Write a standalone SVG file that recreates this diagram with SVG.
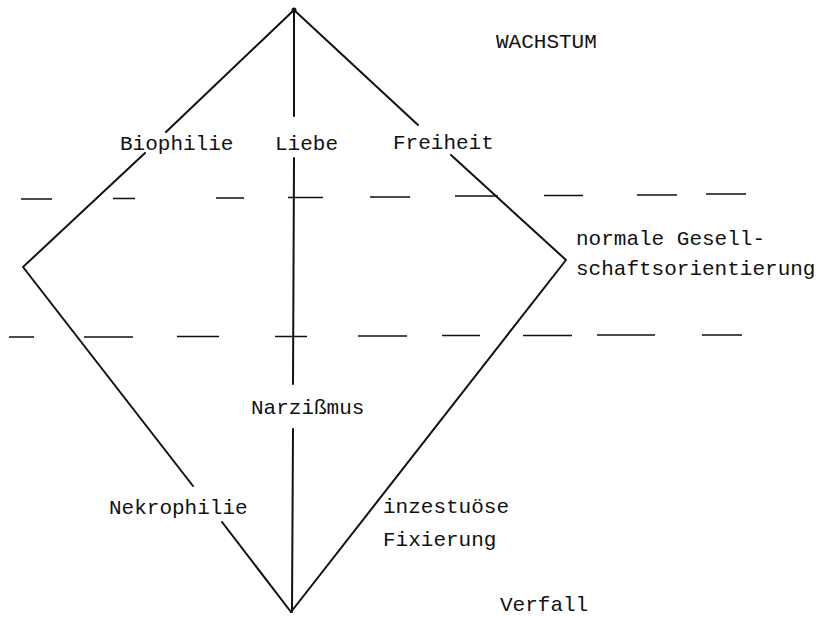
<svg xmlns="http://www.w3.org/2000/svg" width="823" height="617" viewBox="0 0 823 617">
<style>
text{font-family:"Liberation Mono","DejaVu Sans Mono",monospace;font-size:21px;fill:#111}
.ln{stroke:#111;stroke-width:2;fill:none;stroke-linecap:round;stroke-linejoin:round}
.ds{stroke:#111;stroke-width:1.5;fill:none}
</style>
<rect width="823" height="617" fill="#fff"/>
<g id="connectors">
<path class="ln" d="M294,10 L166,132 M145,153 L23,267 L193,486 M222,522 L291,612"/>
<path class="ln" d="M294,10 L418,125 M451,155 L566,260 L291,612"/>
<path class="ln" d="M294,10 L294,116 M294,158 L293,384 M293,429 L292,612"/>
<circle cx="294" cy="10" r="2.5" fill="#111"/>
</g>
<g id="dashed-lines">
<path class="ds" d="M21,199 H52 M113,198.5 H135 M216,198 H244 M288,197.5 H323 M370,197 H410 M455,196 H498 M544,195.5 H583 M637,195 H677 M706,194 H746"/>
<path class="ds" d="M9,337 H34 M84,337 H133 M177,336.5 H219 M275,336.5 H307 M358,336 H407 M442,335.5 H480 M523,335.5 H572 M597,335 H655 M702,335 H742"/>
</g>
<g id="wachstum"><text x="496" y="48">WACHSTUM</text></g>
<g id="biophilie"><text x="120" y="150">Biophilie</text></g>
<g id="liebe"><text x="275" y="150">Liebe</text></g>
<g id="freiheit"><text x="393" y="149">Freiheit</text></g>
<g id="normale"><text x="576" y="245">normale Gesell-</text><text x="576" y="275">schaftsorientierung</text></g>
<g id="narzissmus"><text x="251" y="414">Narzißmus</text></g>
<g id="nekrophilie"><text x="109" y="514">Nekrophilie</text></g>
<g id="inzest"><text x="383" y="513">inzestuöse</text><text x="383" y="546">Fixierung</text></g>
<g id="verfall"><text x="500" y="611">Verfall</text></g>
</svg>
